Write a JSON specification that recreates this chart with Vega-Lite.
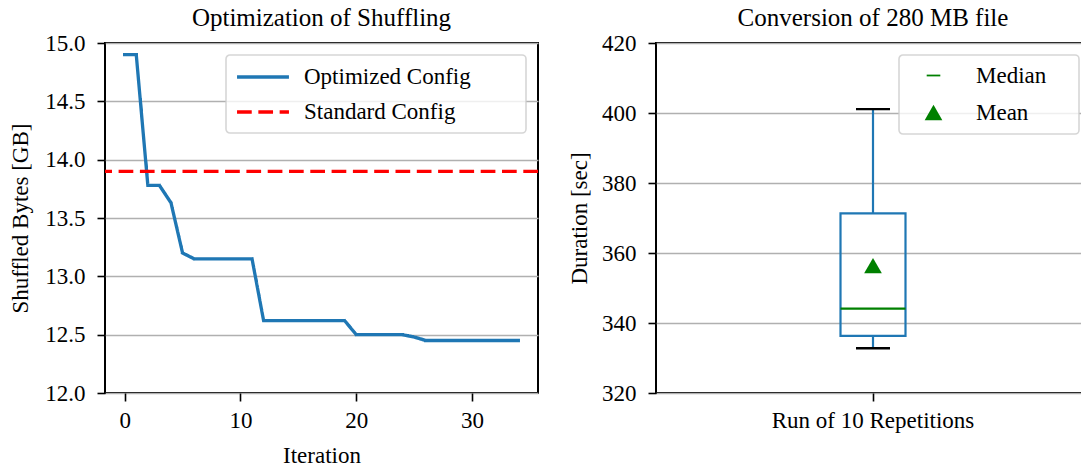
{
  "$schema": "https://vega.github.io/schema/vega-lite/v6.json",
  "autosize": {"type": "none"},
  "padding": {"left": 105, "top": 43, "right": 976, "bottom": 426},
  "background": "white",
  "bounds": "flush",
  "spacing": 118,
  "datasets": {
    "shuffling": [
      {"iteration": 0, "bytes": 14.9, "series": "Optimized Config"},
      {"iteration": 1, "bytes": 14.9, "series": "Optimized Config"},
      {"iteration": 2, "bytes": 13.78, "series": "Optimized Config"},
      {"iteration": 3, "bytes": 13.78, "series": "Optimized Config"},
      {"iteration": 4, "bytes": 13.63, "series": "Optimized Config"},
      {"iteration": 5, "bytes": 13.2, "series": "Optimized Config"},
      {"iteration": 6, "bytes": 13.15, "series": "Optimized Config"},
      {"iteration": 7, "bytes": 13.15, "series": "Optimized Config"},
      {"iteration": 8, "bytes": 13.15, "series": "Optimized Config"},
      {"iteration": 9, "bytes": 13.15, "series": "Optimized Config"},
      {"iteration": 10, "bytes": 13.15, "series": "Optimized Config"},
      {"iteration": 11, "bytes": 13.15, "series": "Optimized Config"},
      {"iteration": 12, "bytes": 12.62, "series": "Optimized Config"},
      {"iteration": 13, "bytes": 12.62, "series": "Optimized Config"},
      {"iteration": 14, "bytes": 12.62, "series": "Optimized Config"},
      {"iteration": 15, "bytes": 12.62, "series": "Optimized Config"},
      {"iteration": 16, "bytes": 12.62, "series": "Optimized Config"},
      {"iteration": 17, "bytes": 12.62, "series": "Optimized Config"},
      {"iteration": 18, "bytes": 12.62, "series": "Optimized Config"},
      {"iteration": 19, "bytes": 12.62, "series": "Optimized Config"},
      {"iteration": 20, "bytes": 12.5, "series": "Optimized Config"},
      {"iteration": 21, "bytes": 12.5, "series": "Optimized Config"},
      {"iteration": 22, "bytes": 12.5, "series": "Optimized Config"},
      {"iteration": 23, "bytes": 12.5, "series": "Optimized Config"},
      {"iteration": 24, "bytes": 12.5, "series": "Optimized Config"},
      {"iteration": 25, "bytes": 12.48, "series": "Optimized Config"},
      {"iteration": 26, "bytes": 12.45, "series": "Optimized Config"},
      {"iteration": 27, "bytes": 12.45, "series": "Optimized Config"},
      {"iteration": 28, "bytes": 12.45, "series": "Optimized Config"},
      {"iteration": 29, "bytes": 12.45, "series": "Optimized Config"},
      {"iteration": 30, "bytes": 12.45, "series": "Optimized Config"},
      {"iteration": 31, "bytes": 12.45, "series": "Optimized Config"},
      {"iteration": 32, "bytes": 12.45, "series": "Optimized Config"},
      {"iteration": 33, "bytes": 12.45, "series": "Optimized Config"},
      {"iteration": 34, "bytes": 12.45, "series": "Optimized Config"}
    ],
    "standard": [
      {"bytes": 13.9, "series": "Standard Config"}
    ],
    "runs": [
      {"run": "Run of 10 Repetitions", "low": 332.8, "q1": 336.3, "median": 344.1, "q3": 371.3, "high": 401.1, "mean": 356.4, "stat": "Mean"}
    ]
  },
  "config": {
    "font": "Liberation Serif",
    "view": {"stroke": "black", "strokeWidth": 2},
    "title": {
      "font": "Liberation Serif", "fontSize": 25, "fontWeight": "normal", "color": "black",
      "anchor": "middle", "frame": "group", "baseline": "alphabetic", "offset": 1
    },
    "axis": {
      "labelFont": "Liberation Serif", "labelFontSize": 23, "labelColor": "black",
      "titleFont": "Liberation Serif", "titleFontSize": 23, "titleFontWeight": "normal", "titleColor": "black",
      "domain": false, "tickColor": "black", "tickWidth": 1.6, "tickSize": 8, "labelPadding": 10,
      "gridColor": "#b0b0b0", "gridWidth": 1.5, "gridOpacity": 1, "labelLimit": 400
    },
    "axisX": {"grid": false, "labelAngle": 0, "titleBaseline": "alphabetic", "titleY": 69, "labelPadding": 8},
    "axisY": {"grid": true, "titleAngle": -90, "titleBaseline": "alphabetic", "labelPadding": 12},
    "legend": {
      "labelFont": "Liberation Serif", "labelFontSize": 23, "labelColor": "black", "labelLimit": 400,
      "fillColor": "rgba(255,255,255,0.8)", "strokeColor": "rgba(204,204,204,0.8)", "strokeWidth": 1.6,
      "cornerRadius": 4, "padding": 9, "rowPadding": 13
    }
  },
  "hconcat": [
    {
      "width": 433,
      "height": 350,
      "title": "Optimization of Shuffling",
      "layer": [
        {
          "data": {"name": "shuffling"},
          "mark": {"type": "line", "strokeWidth": 3.3, "strokeCap": "square"},
          "encoding": {
            "x": {
              "field": "iteration", "type": "quantitative",
              "scale": {"domain": [-1.7, 35.7], "nice": false, "zero": false},
              "axis": {"values": [0, 10, 20, 30], "title": "Iteration"}
            },
            "y": {
              "field": "bytes", "type": "quantitative",
              "scale": {"domain": [12, 15], "nice": false, "zero": false},
              "axis": {"values": [12, 12.5, 13, 13.5, 14, 14.5, 15], "format": ".1f", "title": "Shuffled Bytes [GB]", "titleX": -78}
            },
            "color": {
              "field": "series", "type": "nominal",
              "scale": {"domain": ["Optimized Config", "Standard Config"], "range": ["#1f77b4", "#ff0000"]},
              "legend": {
                "title": null, "orient": "none", "legendX": 121, "legendY": 12,
                "symbolType": "M-2.36,0H2.36", "symbolSize": 484, "symbolStrokeWidth": 3.3,
                "symbolOffset": 15, "labelOffset": 28, "rowPadding": 10, "labelLimit": 400,
                "labelExpr": "datum.label + '\u00a0\u00a0\u00a0\u00a0\u00a0\u00a0\u00a0\u00a0\u200b'"
              }
            },
            "strokeDash": {
              "field": "series", "type": "nominal",
              "scale": {"domain": ["Optimized Config", "Standard Config"], "range": [[1, 0], [14.7, 6.6]]},
              "legend": {
                "title": null, "orient": "none", "legendX": 121, "legendY": 12,
                "symbolType": "M-2.36,0H2.36", "symbolSize": 484, "symbolStrokeWidth": 3.3,
                "symbolOffset": 15, "labelOffset": 28, "rowPadding": 10, "labelLimit": 400,
                "labelExpr": "datum.label + '\u00a0\u00a0\u00a0\u00a0\u00a0\u00a0\u00a0\u00a0\u200b'"
              }
            }
          }
        },
        {
          "data": {"name": "standard"},
          "mark": {"type": "rule", "strokeWidth": 3.3},
          "encoding": {
            "y": {"field": "bytes", "type": "quantitative"},
            "color": {"field": "series", "type": "nominal"},
            "strokeDash": {"field": "series", "type": "nominal"}
          }
        }
      ]
    },
    {
      "width": 434,
      "height": 350,
      "title": "Conversion of 280 MB file",
      "data": {"name": "runs"},
      "encoding": {
        "x": {
          "field": "run", "type": "nominal",
          "scale": {"paddingInner": 0, "paddingOuter": 0},
          "axis": {"title": null}
        }
      },
      "layer": [
        {
          "mark": {"type": "rule", "color": "#1f77b4", "strokeWidth": 2.2},
          "encoding": {
            "y": {
              "field": "low", "type": "quantitative", "title": "Duration [sec]",
              "scale": {"domain": [320, 420], "nice": false, "zero": false},
              "axis": {"values": [320, 340, 360, 380, 400, 420], "title": "Duration [sec]", "titleX": -70}
            },
            "y2": {"field": "q1"}
          }
        },
        {
          "mark": {"type": "rule", "color": "#1f77b4", "strokeWidth": 2.2},
          "encoding": {
            "y": {"field": "q3", "type": "quantitative", "title": "Duration [sec]"},
            "y2": {"field": "high"}
          }
        },
        {
          "mark": {"type": "bar", "size": 65, "fill": "transparent", "stroke": "#1f77b4", "strokeWidth": 2.2},
          "encoding": {
            "y": {"field": "q1", "type": "quantitative", "title": "Duration [sec]"},
            "y2": {"field": "q3"}
          }
        },
        {
          "mark": {"type": "tick", "size": 34, "thickness": 2.4, "color": "black", "opacity": 1},
          "encoding": {"y": {"field": "low", "type": "quantitative", "title": "Duration [sec]"}}
        },
        {
          "mark": {"type": "tick", "size": 34, "thickness": 2.4, "color": "black", "opacity": 1},
          "encoding": {"y": {"field": "high", "type": "quantitative", "title": "Duration [sec]"}}
        },
        {
          "mark": {"type": "tick", "size": 65, "thickness": 2.2, "color": "#008000", "opacity": 1},
          "encoding": {"y": {"field": "median", "type": "quantitative", "title": "Duration [sec]"}}
        },
        {
          "mark": {"type": "point", "filled": true, "color": "#008000", "size": 313, "opacity": 1},
          "encoding": {
            "y": {"field": "mean", "type": "quantitative", "title": "Duration [sec]"},
            "shape": {
              "field": "stat", "type": "nominal",
              "scale": {"domain": ["Median", "Mean"], "range": ["M-0.77,-0.1H0.77V0.1H-0.77Z", "triangle-up"]},
              "legend": {
                "title": null, "orient": "none", "legendX": 794, "legendY": 12,
                "symbolSize": 313, "symbolFillColor": "#008000", "symbolStrokeWidth": 0,
                "symbolOffset": 14, "labelOffset": 31,
                "labelExpr": "datum.label + '\u00a0\u00a0\u00a0\u00a0\u200b'"
              }
            }
          }
        }
      ]
    }
  ]
}
